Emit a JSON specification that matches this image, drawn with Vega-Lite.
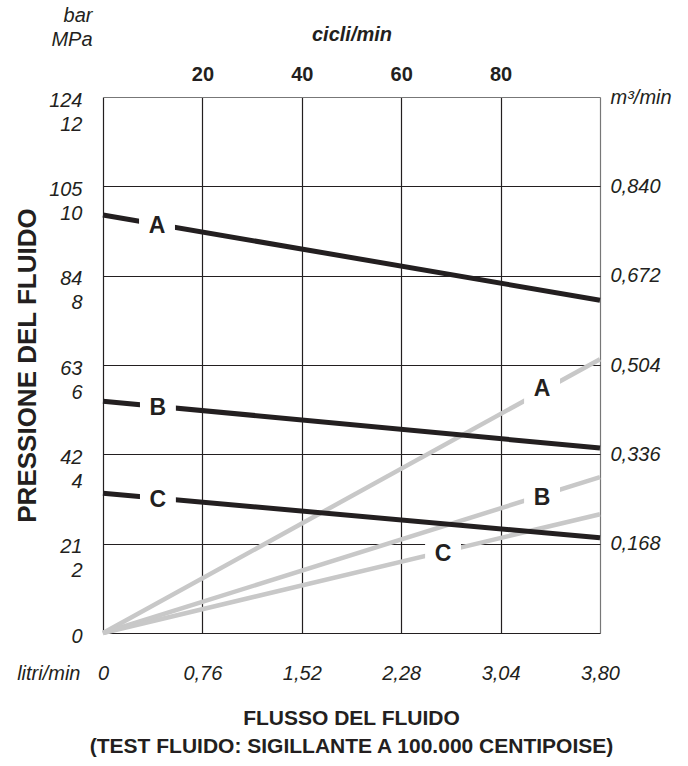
{
  "$schema": "https://vega.github.io/schema/vega-lite/v6.json",
  "width": 497,
  "height": 536,
  "autosize": {"type": "none"},
  "padding": {"left": 103, "top": 97, "right": 88, "bottom": 133},
  "background": "white",
  "config": {
    "font": "Liberation Sans",
    "view": {"stroke": null},
    "axis": {
      "labelFont": "Liberation Sans",
      "titleFont": "Liberation Sans",
      "labelColor": "#231f20",
      "titleColor": "#231f20",
      "labelFontSize": 20,
      "titleFontSize": 20,
      "labelFontStyle": "italic",
      "labelOverlap": false,
      "labelFlush": false,
      "labelBound": false,
      "ticks": false,
      "tickSize": 0,
      "domain": false,
      "grid": false
    }
  },
  "title": {
    "text": ["FLUSSO DEL FLUIDO", "(TEST FLUIDO: SIGILLANTE A 100.000 CENTIPOISE)"],
    "orient": "bottom",
    "anchor": "middle",
    "font": "Liberation Sans",
    "fontSize": 21,
    "fontWeight": "bold",
    "color": "#231f20",
    "lineHeight": 28,
    "offset": 25
  },
  "data": {"values": []},
  "layer": [
    {
      "data": {
        "values": [
          {"series": "A", "flow": 0, "pressure": 0},
          {"series": "A", "flow": 3.8, "pressure": 6.13},
          {"series": "B", "flow": 0, "pressure": 0},
          {"series": "B", "flow": 3.8, "pressure": 3.49},
          {"series": "C", "flow": 0, "pressure": 0},
          {"series": "C", "flow": 3.8, "pressure": 2.66}
        ]
      },
      "mark": {"type": "line", "color": "#c8c8c8", "strokeWidth": 4.5, "strokeCap": "butt"},
      "encoding": {
        "x": {
          "field": "flow", "type": "quantitative",
          "scale": {"domain": [0, 3.8], "nice": false, "zero": true},
          "axis": {
            "orient": "top",
            "values": [0.76, 1.52, 2.28, 3.04],
            "labelExpr": "format(round(datum.value / 0.038), 'd')",
            "labelFontStyle": "normal",
            "labelFontWeight": "bold",
            "labelBaseline": "alphabetic",
            "labelPadding": 17,
            "title": "cicli/min",
            "titleFontWeight": "bold",
            "titleFontStyle": "italic",
            "titleBaseline": "alphabetic",
            "titleY": -57
          }
        },
        "y": {
          "field": "pressure", "type": "quantitative",
          "scale": {"domain": [0, 12], "nice": false, "zero": true},
          "axis": {
            "orient": "right",
            "values": [2, 4, 6, 8, 10, 12],
            "labelExpr": "datum.value == 12 ? 'm³/min' : replace(format(datum.value * 0.084, '.3f'), '.', ',')",
            "labelAlign": "left",
            "labelBaseline": "middle",
            "labelPadding": 10,
            "title": ["bar", "MPa"],
            "titleFontStyle": "italic",
            "titleFontWeight": "normal",
            "titleAngle": 0,
            "titleAlign": "right",
            "titleBaseline": "alphabetic",
            "titleLineHeight": 24,
            "titleX": -508,
            "titleY": -76
          }
        },
        "detail": {"field": "series"}
      }
    },
    {
      "data": {
        "values": [
          {"series": "A", "flow": 0, "pressure": 9.36},
          {"series": "A", "flow": 3.8, "pressure": 7.45},
          {"series": "B", "flow": 0, "pressure": 5.19},
          {"series": "B", "flow": 3.8, "pressure": 4.14},
          {"series": "C", "flow": 0, "pressure": 3.13},
          {"series": "C", "flow": 3.8, "pressure": 2.13}
        ]
      },
      "mark": {"type": "line", "color": "#231f20", "strokeWidth": 5, "strokeCap": "butt"},
      "encoding": {
        "x": {
          "field": "flow", "type": "quantitative",
          "scale": {"domain": [0, 3.8], "nice": false, "zero": true},
          "axis": {
            "orient": "bottom",
            "values": [0, 0.76, 1.52, 2.28, 3.04, 3.8],
            "labelExpr": "datum.value == 0 ? '0' : replace(format(datum.value, '.2f'), '.', ',')",
            "labelPadding": 30,
            "grid": true,
            "gridColor": {"condition": {"test": "datum.value > 3.7", "value": "#777777"}, "value": "#231f20"},
            "gridWidth": 1.2,
            "title": "litri/min",
            "titleFontStyle": "italic",
            "titleFontWeight": "normal",
            "titleAlign": "right",
            "titleAnchor": "start",
            "titleBaseline": "alphabetic",
            "titleX": -23,
            "titleY": 46
          }
        },
        "y": {
          "field": "pressure", "type": "quantitative",
          "scale": {"domain": [0, 12], "nice": false, "zero": true},
          "axis": {
            "orient": "left",
            "values": [0, 2, 4, 6, 8, 10, 12],
            "labelExpr": "datum.value == 0 ? '0' : [datum.value == 12 ? '124' : format(datum.value * 10.5, 'd'), format(datum.value, 'd')]",
            "labelAlign": "right",
            "labelBaseline": "top",
            "labelOffset": -7,
            "labelLineHeight": 24,
            "labelPadding": 21,
            "grid": true,
            "gridColor": {"condition": {"test": "datum.value > 11.9", "value": "#777777"}, "value": "#231f20"},
            "gridWidth": 1.2,
            "title": "PRESSIONE DEL FLUIDO",
            "titleFontSize": 26,
            "titleFontWeight": "bold",
            "titleBaseline": "middle",
            "titleX": -76
          }
        },
        "detail": {"field": "series"}
      }
    },
    {
      "data": {
        "values": [
          {"label": "A", "flow": 0.413, "pressure": 9.13},
          {"label": "B", "flow": 0.42, "pressure": 5.06},
          {"label": "C", "flow": 0.42, "pressure": 3.0},
          {"label": "A", "flow": 3.357, "pressure": 5.48},
          {"label": "B", "flow": 3.357, "pressure": 3.04},
          {"label": "C", "flow": 2.6, "pressure": 1.79}
        ]
      },
      "layer": [
        {
          "mark": {"type": "point", "shape": "square", "filled": true, "color": "white", "opacity": 1, "size": 1290, "strokeWidth": 0},
          "encoding": {
            "x": {"field": "flow", "type": "quantitative", "scale": {"domain": [0, 3.8], "nice": false}, "axis": null},
            "y": {"field": "pressure", "type": "quantitative", "scale": {"domain": [0, 12], "nice": false}, "axis": null}
          }
        },
        {
          "mark": {"type": "text", "font": "Liberation Sans", "fontSize": 23, "fontWeight": "bold", "color": "#231f20", "baseline": "middle", "align": "center", "dy": 1},
          "encoding": {
            "x": {"field": "flow", "type": "quantitative", "scale": {"domain": [0, 3.8], "nice": false}, "axis": null},
            "y": {"field": "pressure", "type": "quantitative", "scale": {"domain": [0, 12], "nice": false}, "axis": null},
            "text": {"field": "label"}
          }
        }
      ]
    }
  ],
  "resolve": {"axis": {"x": "independent", "y": "independent"}}
}
